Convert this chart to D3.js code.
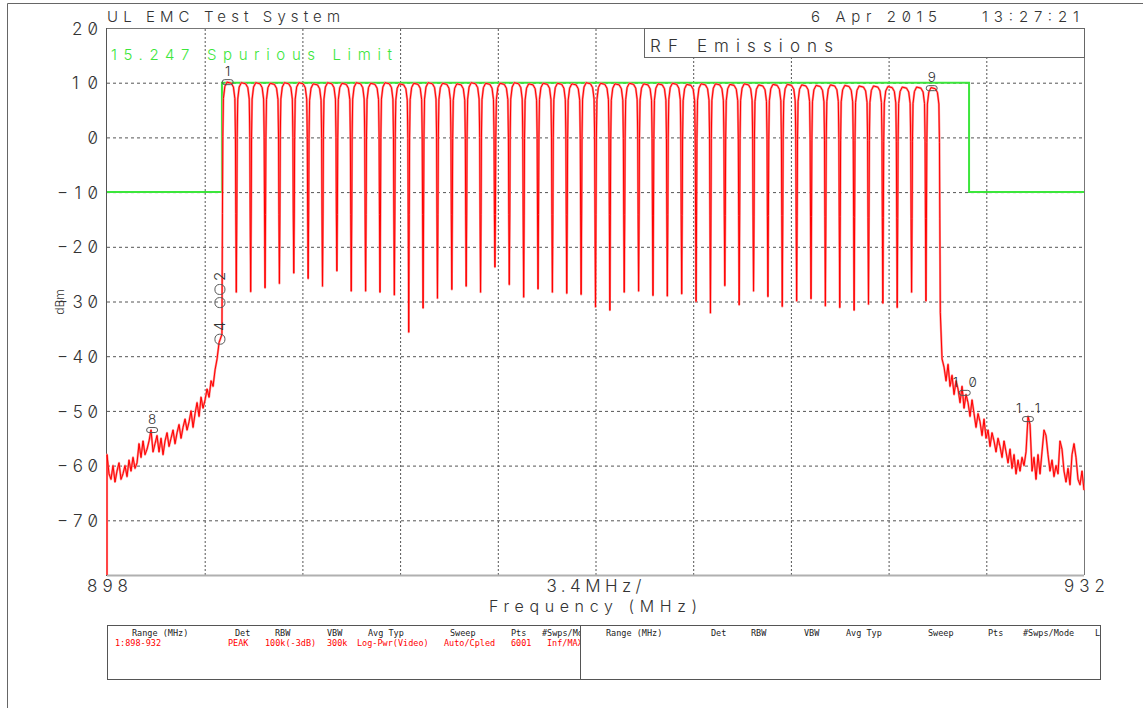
<!DOCTYPE html>
<html>
<head>
<meta charset="utf-8">
<script src="https://cdn.jsdelivr.net/npm/d3@7"></script>
<style>
  html, body { margin: 0; padding: 0; background: #fff; }
  svg { display: block; }
  .lbl { font-family: Inter, "DejaVu Sans", sans-serif; font-weight: 300; font-feature-settings: "zero" 1; fill: #333; }
  .tbl { font-family: "DejaVu Sans Mono", "Liberation Mono", monospace; font-size: 8.5px; }
</style>
</head>
<body>
<svg id="chart" width="1143" height="708"></svg>
<script>
// ---- sweep / axis settings ----
const freqStart = 898, freqStop = 932;
const levelMin = -80, levelMax = 20;
const yTickValues = [20, 10, 0, -10, -20, -30, -40, -50, -60, -70];
const xTickValues = [898, 932];
const gridFreqs = [901.4, 904.8, 908.2, 911.6, 915.0, 918.4, 921.8, 925.2, 928.6];
const gridLevels = [10, 0, -10, -20, -30, -40, -50, -60, -70];

// ---- text ----
const titleText = "UL EMC Test System";
const dateText = "6 Apr 2015";
const timeText = "13:27:21";
const limitText = "15.247 Spurious Limit";
const panelText = "RF Emissions";
const yTitle = "dBm";
const xTitle = "Frequency (MHz)";
const spanText = "3.4MHz/";

// ---- 15.247 limit line (MHz, dBm) ----
const limitFreqs  = [898, 902, 902, 928, 928, 932];
const limitLevels = [-10, -10, 10, 10, -10, -10];

// ---- hopping channels (MHz) and their max-hold peaks (dBm) ----
const channelFreqs = [
  902.25, 902.75, 903.25, 903.75, 904.25, 904.75, 905.25, 905.75, 906.25, 906.75,
  907.25, 907.75, 908.25, 908.75, 909.25, 909.75, 910.25, 910.75, 911.25, 911.75,
  912.25, 912.75, 913.25, 913.75, 914.25, 914.75, 915.25, 915.75, 916.25, 916.75,
  917.25, 917.75, 918.25, 918.75, 919.25, 919.75, 920.25, 920.75, 921.25, 921.75,
  922.25, 922.75, 923.25, 923.75, 924.25, 924.75, 925.25, 925.75, 926.25, 926.75
];
const channelPeaks = [
  10.1, 10.0, 10.0, 9.9, 10.0, 10.0, 9.8, 10.0, 9.9, 10.0,
  9.9, 10.0, 9.8, 9.9, 10.0, 9.9, 9.8, 10.0, 9.9, 9.9,
  10.0, 9.8, 9.9, 9.9, 9.8, 10.0, 9.9, 9.8, 9.9, 9.8,
  9.8, 9.9, 9.7, 9.8, 9.8, 9.7, 9.8, 9.6, 9.7, 9.7,
  9.6, 9.5, 9.6, 9.5, 9.4, 9.4, 9.3, 9.2, 9.2, 9.1
];
// dips between neighbouring channels (dBm)
const channelDips = [
  -28.3, -28.2, -27.5, -26.7, -24.8, -25.8, -27.2, -24.4, -28.1, -28.1,
  -28.3, -28.8, -35.6, -31.2, -29.4, -27.8, -27.2, -28.3, -23.7, -26.9,
  -29.2, -27.7, -28.3, -28.5, -28.7, -31.0, -31.6, -28.3, -28.1, -28.9,
  -29.0, -28.6, -30.0, -32.1, -27.1, -30.6, -28.1, -29.1, -30.9, -29.9,
  -29.5, -30.8, -31.1, -31.6, -30.5, -30.3, -31.1, -28.3, -29.9
];
const bandEdgeLow = -36, bandEdgeHigh = -32;
const channelHalfSpacing = 0.25;
// shape of one hop channel: [position as fraction of half spacing, dB below peak]
const hopShape = [
  [-0.93, -24], [-0.88, -10], [-0.80, -3], [-0.60, -0.8], [-0.30, 0],
  [0.30, -0.2], [0.60, -0.9], [0.80, -3], [0.88, -10], [0.93, -24]
];

// ---- out-of-band noise floor, evenly spaced sweep points (dBm) ----
const lowerBandRange = [898.0, 901.9];
const lowerBand = [
  -58.0, -61.5, -62.5, -60.0, -63.0, -61.0, -59.5, -62.5, -61.5, -60.0,
  -62.0, -59.0, -61.0, -58.5, -60.5, -59.5, -56.0, -58.5, -55.5, -58.0,
  -57.0, -55.5, -53.5, -57.5, -56.0, -54.5, -57.5, -55.0, -58.0, -55.5,
  -54.0, -56.5, -55.0, -53.5, -56.0, -54.0, -52.5, -55.0, -53.0, -51.5,
  -53.5, -52.0, -50.0, -53.0, -50.5, -48.5, -51.0, -47.5, -49.5, -48.0,
  -46.0, -47.5, -44.5, -45.5, -42.5, -40.5, -37.5
];
const upperBandRange = [927.06, 932.0];
const upperBand = [
  -40.5, -42, -44.5, -41.5, -45.5, -43.5, -47, -44.5, -46, -48.5,
  -45.5, -49.5, -47, -48.5, -51, -48, -50.5, -53, -50.5, -52,
  -54.5, -51.5, -55, -53.5, -56.5, -54, -55.5, -57.5, -55, -56.5,
  -58.5, -55.5, -57.5, -59.5, -57, -60.5, -58, -61.5, -59, -61,
  -58.5, -60, -57.5, -51, -52.5, -61, -58.5, -62.5, -58, -61.5,
  -57.5, -53.5, -54.5, -58, -61, -59, -62, -60, -61.5, -55.5,
  -57, -61, -63, -60.5, -63.5, -58, -56, -58.5, -62.5, -63.5,
  -61, -64.5
];

// ---- markers ----
const markerIds    = ["1", "2", "3", "4", "8", "9", "10", "11"];
const markerFreqs  = [902.2, 901.93, 901.93, 901.93, 899.57, 926.7, 927.85, 930.05];
const markerLevels = [10.1, -27.8, -30.2, -36.9, -53.5, 9.0, -46.7, -51.5];

// ---- settings table ----
const tableHeads = ["Range (MHz)", "Det", "RBW", "VBW", "Avg Typ", "Sweep", "Pts", "#Swps/Mode"];
const tableRow   = ["1:898-932", "PEAK", "100k(-3dB)", "300k", "Log-Pwr(Video)", "Auto/Cpled", "6001", "Inf/MAX"];
const tableTail  = "L";

// ================= drawing =================
const W = 1143, H = 708;
const plot = { left: 107, right: 1084, top: 28, bottom: 575 };
const RED = "#ff0000", GREEN = "#3ce63c", INK = "#333";

const svg = d3.select("#chart");
const x = d3.scaleLinear().domain([freqStart, freqStop]).range([plot.left, plot.right]);
const y = d3.scaleLinear().domain([levelMin, levelMax]).range([plot.bottom, plot.top]);

// page frame
svg.append("path").attr("d", `M7.5,${H}V3.5H${W}`).attr("fill", "none").attr("stroke", "#666");

// grid
const gy = svg.append("g").attr("transform", `translate(${plot.left},0)`)
  .call(d3.axisLeft(y).tickValues(gridLevels).tickSize(-(plot.right - plot.left)).tickFormat(""));
gy.select(".domain").remove();
gy.selectAll("line").attr("stroke", "#555").attr("stroke-dasharray", "3,3");

const gx = svg.append("g").attr("transform", `translate(0,${plot.bottom})`)
  .call(d3.axisBottom(x).tickValues(gridFreqs).tickSize(-(plot.bottom - plot.top)).tickFormat(""));
gx.select(".domain").remove();
gx.selectAll("line").attr("stroke", "#555").attr("stroke-dasharray", "2,2");

// plot frame
svg.append("line").attr("x1", plot.left).attr("x2", plot.right).attr("y1", plot.top + 0.5).attr("y2", plot.top + 0.5).attr("stroke", "#777");
svg.append("line").attr("x1", plot.right + 0.5).attr("x2", plot.right + 0.5).attr("y1", plot.top).attr("y2", plot.bottom).attr("stroke", "#777");
svg.append("line").attr("x1", plot.left).attr("x2", plot.right).attr("y1", plot.bottom + 0.5).attr("y2", plot.bottom + 0.5).attr("stroke", "#b0b0b0").attr("stroke-width", 2);
svg.append("line").attr("x1", plot.left - 0.5).attr("x2", plot.left - 0.5).attr("y1", plot.top).attr("y2", plot.bottom + 1).attr("stroke", "#555");

// y tick labels
const ya = svg.append("g").attr("transform", `translate(${plot.left},0)`)
  .call(d3.axisLeft(y).tickValues(yTickValues).tickSize(0).tickPadding(9)
    .tickFormat(d => d < 0 ? "\u2212" + (-d) : String(d)));
ya.select(".domain").remove();
ya.attr("font-family", null).attr("font-size", null);
ya.selectAll("text").attr("class", "lbl").attr("font-size", 17).attr("dy", "0.36em")
  .attr("textLength", d => d < 0 ? 41 : (d === 0 ? 12 : 26)).attr("lengthAdjust", "spacing");

// x tick labels
const xa = svg.append("g").attr("transform", `translate(0,${plot.bottom})`)
  .call(d3.axisBottom(x).tickValues(xTickValues).tickSize(0).tickPadding(5).tickFormat(d3.format("d")));
xa.select(".domain").remove();
xa.attr("font-family", null).attr("font-size", null);
xa.selectAll("text").attr("class", "lbl").attr("font-size", 17).attr("textLength", 41).attr("lengthAdjust", "spacing");

function label(txt, px, py, size, len, anchor, fill) {
  return svg.append("text").attr("class", "lbl").attr("x", px).attr("y", py)
    .attr("font-size", size).attr("text-anchor", anchor || "start")
    .attr("textLength", len).attr("lengthAdjust", "spacing")
    .style("fill", fill || INK).text(txt);
}

label(spanText, 594, 592, 17, 95, "middle");
label(xTitle, 593, 612, 16, 208, "middle");
svg.append("text").attr("class", "lbl").attr("font-size", 12)
  .attr("transform", "translate(64,302) rotate(-90)").attr("text-anchor", "middle").text(yTitle);

// header
label(titleText, 107, 22, 15, 233);
label(dateText, 811, 22, 15, 126);
label(timeText, 982, 22, 15, 97);

// panel title box
svg.append("rect").attr("x", 644.5).attr("y", plot.top + 0.5).attr("width", plot.right - 644).attr("height", 29)
  .attr("fill", "#fff").attr("stroke", "#666");
label(panelText, 650, 52, 17, 183);

// clip for traces
svg.append("clipPath").attr("id", "plotClip").append("rect")
  .attr("x", plot.left - 1).attr("y", plot.top).attr("width", plot.right - plot.left + 2).attr("height", plot.bottom - plot.top + 1);

// limit line
const limitPts = limitFreqs.map((f, i) => [f, limitLevels[i]]);
const line = d3.line().x(d => x(d[0])).y(d => y(d[1]));
svg.append("path").datum(limitPts).attr("d", line).attr("fill", "none")
  .attr("stroke", GREEN).attr("stroke-width", 2).attr("clip-path", "url(#plotClip)");
label(limitText, 111, 59.5, 15, 281, "start", GREEN);

// measured trace
const trace = [[freqStart, levelMin]];
lowerBand.forEach((v, i) => trace.push([lowerBandRange[0] + i * (lowerBandRange[1] - lowerBandRange[0]) / (lowerBand.length - 1), v]));
trace.push([channelFreqs[0] - channelHalfSpacing, bandEdgeLow]);
channelFreqs.forEach((c, k) => {
  hopShape.forEach(([u, drop]) => trace.push([c + u * channelHalfSpacing, channelPeaks[k] + drop]));
  trace.push([c + channelHalfSpacing, k < channelDips.length ? channelDips[k] : bandEdgeHigh]);
});
upperBand.forEach((v, i) => trace.push([upperBandRange[0] + i * (upperBandRange[1] - upperBandRange[0]) / (upperBand.length - 1), v]));

const tg = svg.append("g").attr("clip-path", "url(#plotClip)");
tg.append("path").datum(trace).attr("d", line).attr("fill", "none")
  .attr("stroke", "#ff8a8a").attr("stroke-width", 2.2).attr("stroke-linejoin", "round");
tg.append("path").datum(trace).attr("d", line).attr("fill", "none")
  .attr("stroke", RED).attr("stroke-width", 1).attr("stroke-linejoin", "round");

// markers
const mg = svg.append("g");
markerIds.forEach((id, i) => {
  const cx = x(markerFreqs[i]), cy = y(markerLevels[i]);
  const vertical = id === "2" || id === "3" || id === "4";
  if (vertical) {
    mg.append("rect").attr("x", cx - 5).attr("y", cy - 5).attr("width", 10).attr("height", 10).attr("rx", 4.5)
      .attr("fill", "none").attr("stroke", "#555");
    if (id !== "3") {
      mg.append("text").attr("class", "lbl").attr("font-size", 15)
        .attr("transform", `translate(${cx + 5},${cy - 13}) rotate(-90)`).attr("text-anchor", "middle").text(id);
    }
  } else {
    mg.append("rect").attr("x", cx - 5.5).attr("y", cy - 2.5).attr("width", 11).attr("height", 5).attr("rx", 2.5)
      .attr("fill", "none").attr("stroke", "#555");
    const t = mg.append("text").attr("class", "lbl").attr("font-size", 13.5)
      .attr("x", cx).attr("y", cy - 6).attr("text-anchor", "middle").text(id);
    if (id.length > 1) t.attr("textLength", 24).attr("lengthAdjust", "spacing");
  }
});

// settings table
const table = { left: 107, right: 1100, top: 625, bottom: 679, split: 580 };
svg.append("rect").attr("x", table.left + 0.5).attr("y", table.top + 0.5)
  .attr("width", table.right - table.left).attr("height", table.bottom - table.top)
  .attr("fill", "none").attr("stroke", "#555");
svg.append("line").attr("x1", table.split + 0.5).attr("x2", table.split + 0.5)
  .attr("y1", table.top).attr("y2", table.bottom).attr("stroke", "#555");

const defs = svg.append("defs");
defs.append("clipPath").attr("id", "tblL").append("rect").attr("x", table.left).attr("y", table.top).attr("width", table.split - table.left).attr("height", 60);
defs.append("clipPath").attr("id", "tblR").append("rect").attr("x", table.split + 1).attr("y", table.top).attr("width", table.right - table.split - 1).attr("height", 60);

const headXLeft  = [132, 235, 275, 327, 368, 450, 511, 542];
const rowXLeft   = [115, 228, 265, 327, 357, 444, 511, 547];
const headXRight = [606, 711, 751, 804, 846, 928, 988, 1023];

const tl = svg.append("g").attr("clip-path", "url(#tblL)").attr("class", "tbl");
tableHeads.forEach((h, i) => tl.append("text").attr("x", headXLeft[i]).attr("y", 636).attr("fill", "#222").text(h));
tableRow.forEach((v, i) => tl.append("text").attr("x", rowXLeft[i]).attr("y", 646).attr("fill", RED).text(v));

const tr = svg.append("g").attr("clip-path", "url(#tblR)").attr("class", "tbl");
tableHeads.forEach((h, i) => tr.append("text").attr("x", headXRight[i]).attr("y", 636).attr("fill", "#222").text(h));
tr.append("text").attr("x", 1095).attr("y", 636).attr("fill", "#222").text(tableTail);
</script>
</body>
</html>
